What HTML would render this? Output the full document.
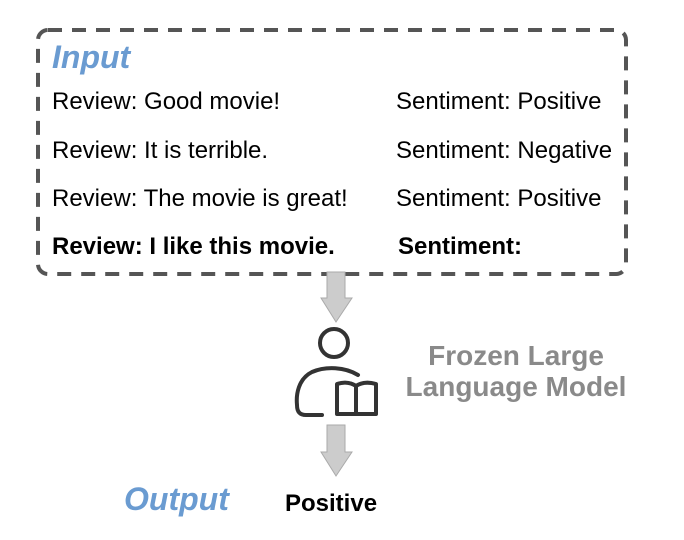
<!DOCTYPE html>
<html><head><style>
body{margin:0;width:684px;height:540px;background:#fff;overflow:hidden;position:relative;font-family:"Liberation Sans",Arial,sans-serif}
.t{position:absolute;font-size:24px;color:#000;white-space:nowrap;line-height:1}
.b{font-weight:bold}
.blue{color:#6a9bd1;font-weight:bold;font-style:italic;font-size:32px}
.gray{color:#8a8a8a;font-weight:bold;font-size:28px;text-align:center;line-height:31px}
</style></head><body>
<svg width="684" height="540" style="position:absolute;left:0;top:0">
<rect x="38" y="30" width="588" height="244" rx="10" ry="10" fill="none" stroke="#555" stroke-width="4" stroke-dasharray="14 10"/>
<polygon points="327,272 345,272 345,298 352,298 336,322 321,298 327,298" fill="#ccc" stroke="#aaa" stroke-width="1"/>
<polygon points="327,425 345,425 345,452 352,452 336,476 321,452 327,452" fill="#ccc" stroke="#aaa" stroke-width="1"/>
<g fill="none" stroke="#333" stroke-width="4" stroke-linecap="round" stroke-linejoin="round">
<circle cx="334" cy="343" r="14"/>
<path d="M358,375 C345,367 326,366 312,372 C298,379 296,395 297,405 C297,412 300,415 306,415 L322,415"/>
<path d="M337,384 L337,414 L356,414 L356,386 C350,382 343,382 337,384 Z"/>
<path d="M356,386 C362,382 369,382 376,384 L376,414 L356,414"/>
</g>
</svg>
<div class="t blue" style="left:52px;top:41px">Input</div>
<div class="t" style="left:52px;top:90px">Review: Good movie!</div>
<div class="t" style="left:396px;top:90px">Sentiment: Positive</div>
<div class="t" style="left:52px;top:139px">Review: It is terrible.</div>
<div class="t" style="left:396px;top:139px">Sentiment: Negative</div>
<div class="t" style="left:52px;top:187px">Review: The movie is great!</div>
<div class="t" style="left:396px;top:187px">Sentiment: Positive</div>
<div class="t b" style="left:52px;top:235px">Review: I like this movie.</div>
<div class="t b" style="left:398px;top:235px">Sentiment:</div>
<div class="t gray" style="left:396px;top:340px;width:240px">Frozen Large<br>Language Model</div>
<div class="t blue" style="left:124px;top:483px">Output</div>
<div class="t b" style="left:285px;top:492px">Positive</div>
</body></html>
